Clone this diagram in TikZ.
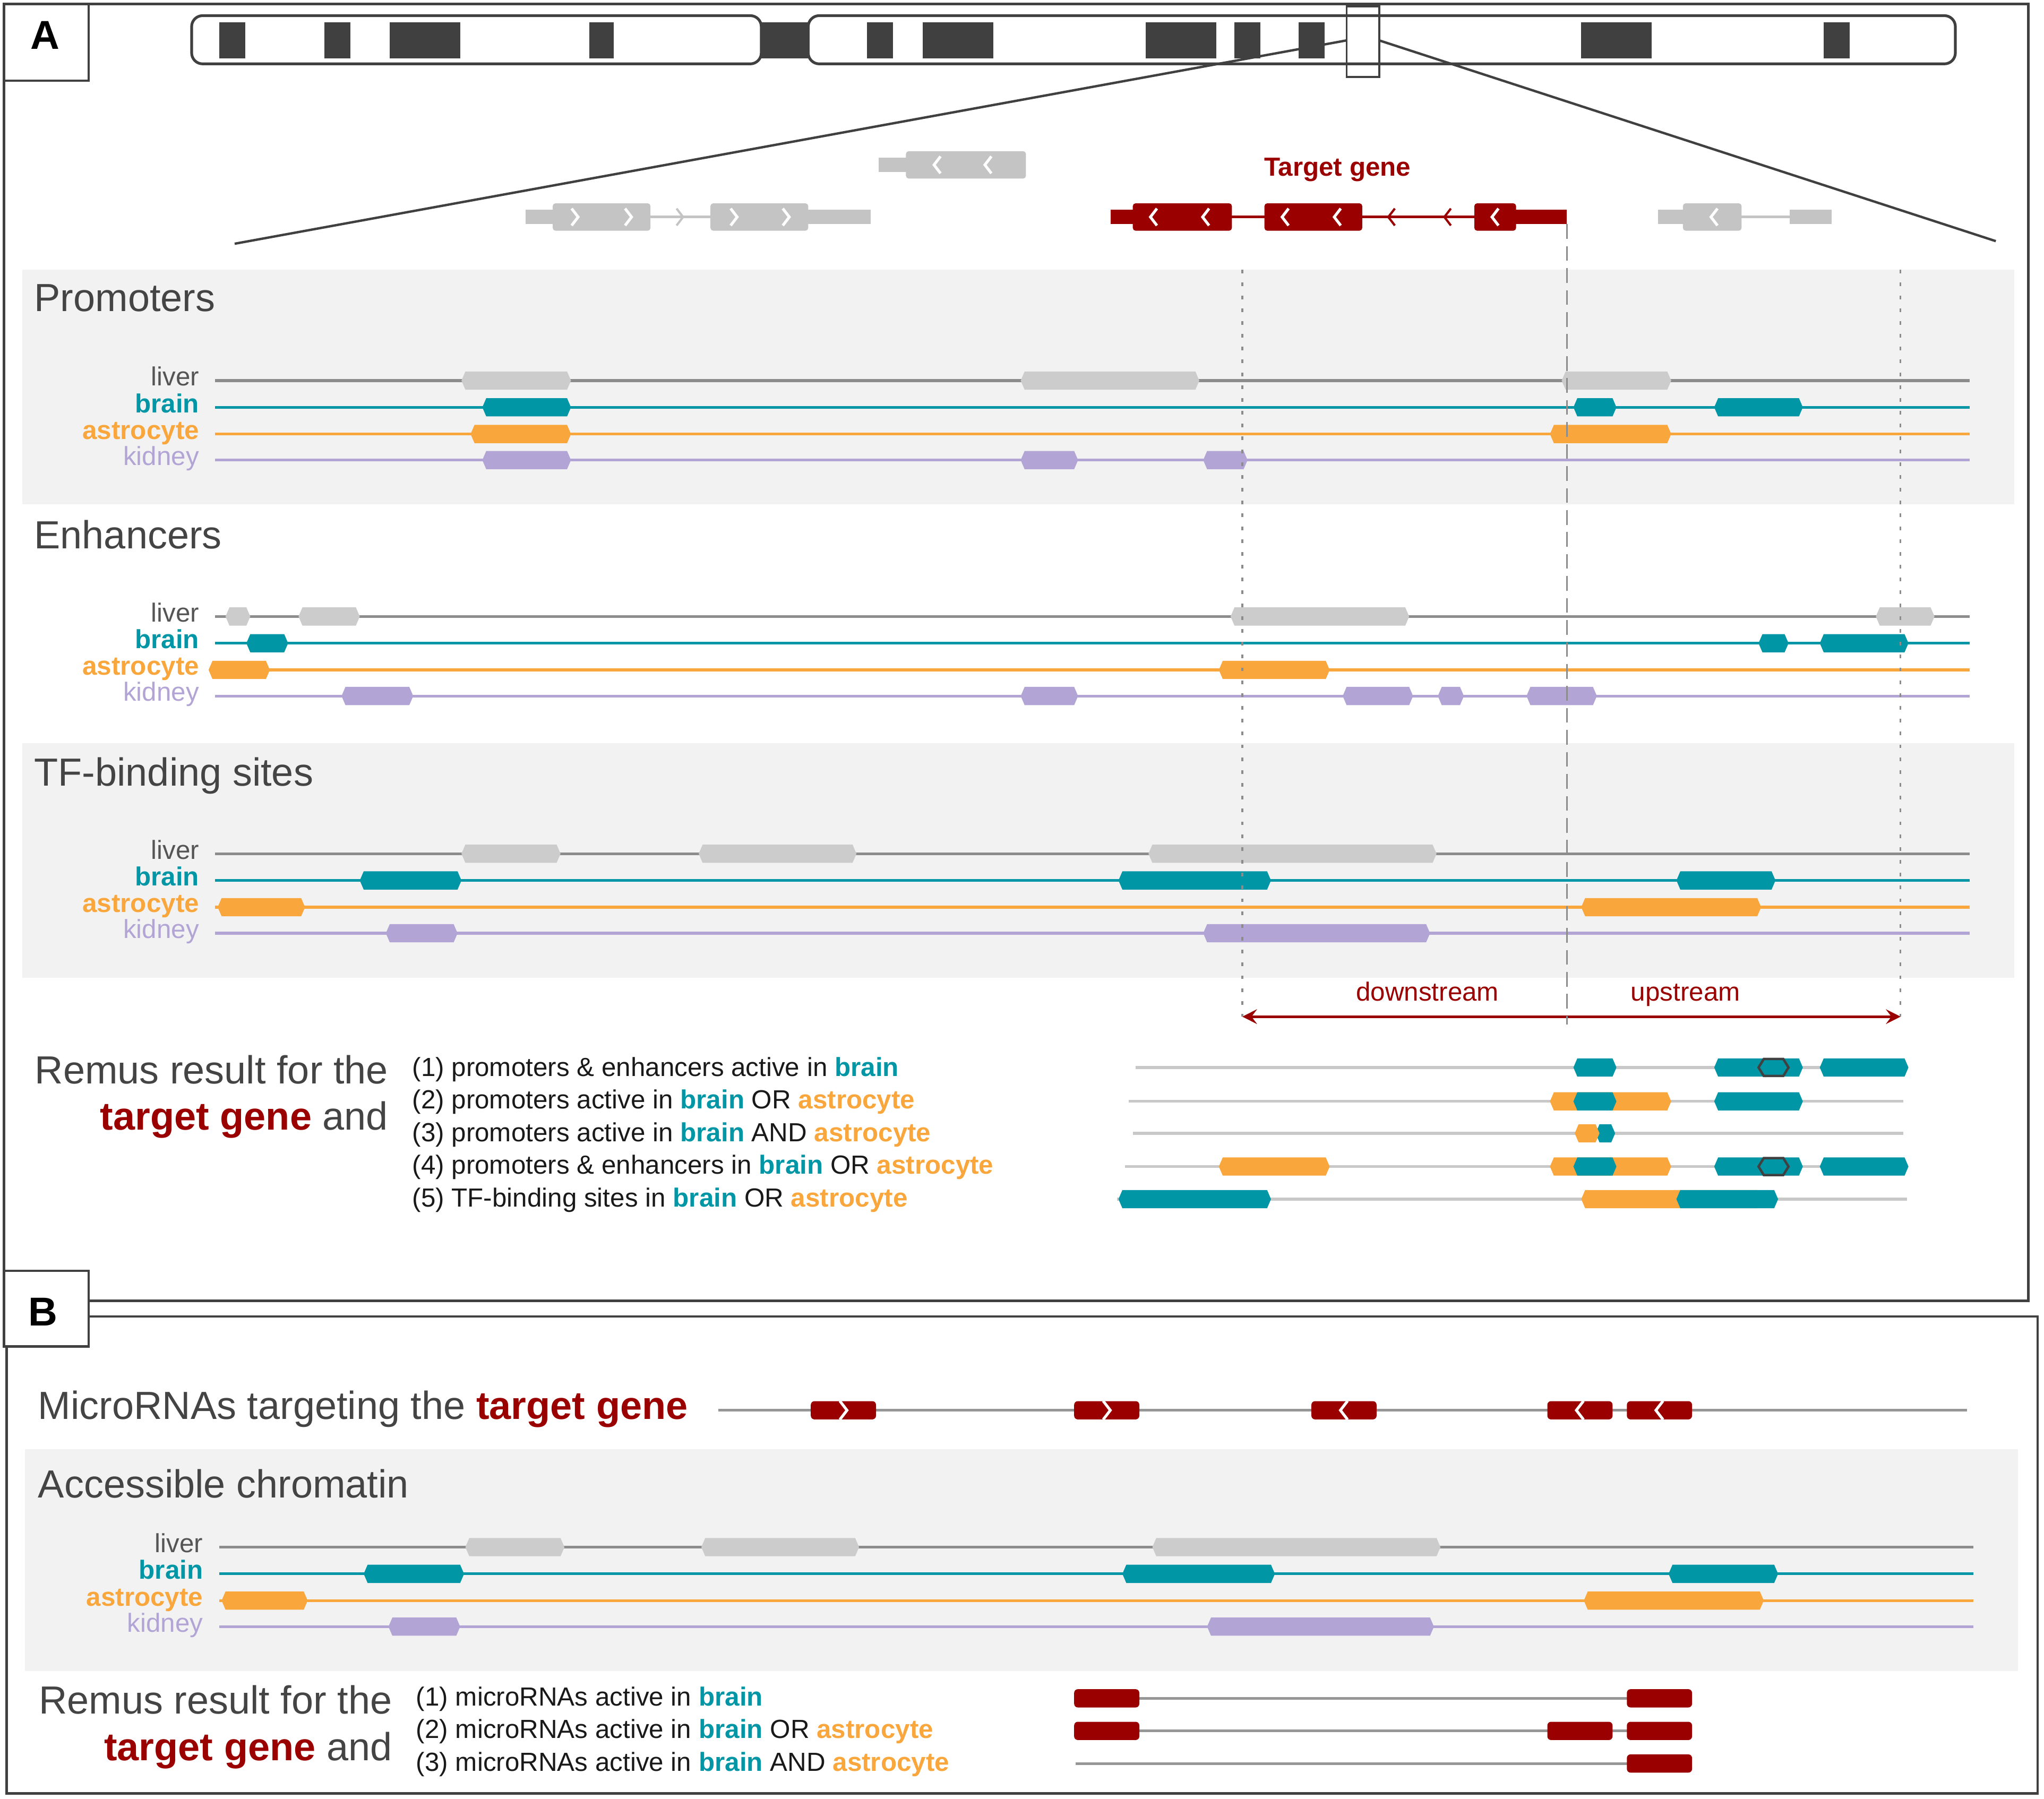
\documentclass[tikz,border=0pt]{standalone}
\usepackage{fontspec}
\setmainfont{Liberation Sans}
\usetikzlibrary{arrows.meta}

\definecolor{brainc}{RGB}{0,150,166}
\definecolor{astroc}{RGB}{249,167,60}
\definecolor{kidneyc}{RGB}{178,165,213}
\definecolor{liverc}{RGB}{204,204,204}
\definecolor{liverln}{RGB}{140,140,140}
\definecolor{liverlab}{RGB}{85,85,85}
\definecolor{genec}{RGB}{196,196,196}
\definecolor{redc}{RGB}{155,0,0}
\definecolor{panelc}{RGB}{242,242,242}
\definecolor{darkc}{RGB}{64,64,64}
\definecolor{resln}{RGB}{200,200,200}
\definecolor{mirln}{RGB}{150,150,150}
\definecolor{txtc}{RGB}{68,68,68}

\newcommand{\bigtxt}{\fontsize{21.4}{25}\selectfont}
\newcommand{\smtxt}{\fontsize{14.3}{17}\selectfont}
\newcommand{\lbltxt}{\fontsize{22}{26}\selectfont\bfseries}
\newcommand{\tbrain}{{\bfseries\color{brainc}brain}}
\newcommand{\tastro}{{\bfseries\color{astroc}astrocyte}}
\newcommand{\tgene}{{\bfseries\color{redc}target gene}}

\tikzstyle{trk} = [line width=1.5pt]
\tikzstyle{lab} = [anchor=base east, inner sep=0pt, font=\smtxt]
\tikzstyle{title} = [anchor=base west, inner sep=0pt, font=\bigtxt, text=txtc]
\tikzstyle{rtitle} = [anchor=base east, inner sep=0pt, font=\bigtxt, text=txtc]
\tikzstyle{item} = [anchor=base west, inner sep=0pt, font=\smtxt, text=black!90]
\tikzstyle{chevw} = [white, line width=1.5pt]
\tikzstyle{frame} = [darkc, line width=1.3pt]
\tikzstyle{dotln} = [liverln, line width=0.9pt, dash pattern=on 2pt off 5pt]
\tikzstyle{dashln} = [liverln, line width=0.9pt, dash pattern=on 8pt off 4pt]

% feature box with pointed ends
\newcommand{\feat}[4]{\fill[#4] (#1,#3) -- (#1+3,#3-7) -- (#2-3,#3-7) -- (#2,#3) -- (#2-3,#3+7) -- (#1+3,#3+7) -- cycle;}
\newcommand{\olbox}[3]{\draw[darkc, line width=1.3pt] (#1,#3) -- (#1+4,#3-6.5) -- (#2-4,#3-6.5) -- (#2,#3) -- (#2-4,#3+6.5) -- (#1+4,#3+6.5) -- cycle;}
% gene parts
\newcommand{\exon}[4]{\fill[#4, rounded corners=1.5pt] (#1,#3-10.5) rectangle (#2,#3+10.5);}
\newcommand{\utr}[4]{\fill[#4] (#1,#3-5.5) rectangle (#2,#3+5.5);}
\newcommand{\intr}[4]{\draw[#4, line width=1.5pt] (#1,#3) -- (#2,#3);}
\newcommand{\chl}[3]{\draw[chevw] (#1+2.5*#3,#2-6.5*#3) -- (#1-2.5*#3,#2) -- (#1+2.5*#3,#2+6.5*#3);}
\newcommand{\chr}[3]{\draw[chevw] (#1-2.5*#3,#2-6.5*#3) -- (#1+2.5*#3,#2) -- (#1-2.5*#3,#2+6.5*#3);}
\newcommand{\mirbox}[2]{\fill[redc, rounded corners=2pt] (#1,#2-7) rectangle (#1+50,#2+7);}
% four tissue rows: #1 liver line y, #2 x shift, #3 name prefix
\newcommand{\tracks}[3]{%
  \node[lab, text=liverlab] (#3liv) at (153+#2,#1+4) {liver};
  \node[lab, text=brainc, font=\smtxt\bfseries] (#3bra) at (153+#2,#1+24.5) {brain};
  \node[lab, text=astroc, font=\smtxt\bfseries] (#3ast) at (153+#2,#1+45) {astrocyte};
  \node[lab, text=kidneyc] (#3kid) at (153+#2,#1+65) {kidney};
  \draw[trk, liverln] (165+#2,#1) -- (1511+#2,#1);
  \draw[trk, brainc] (165+#2,#1+20.5) -- (1511+#2,#1+20.5);
  \draw[trk, astroc] (165+#2,#1+41) -- (1511+#2,#1+41);
  \draw[trk, kidneyc] (165+#2,#1+61) -- (1511+#2,#1+61);
}

\begin{document}
\begin{tikzpicture}[x=0.025cm, y=-0.025cm]
\fill[white] (0,0) rectangle (1568,1380);
\useasboundingbox (0,0) rectangle (1568,1380);

% frames
\draw[frame] (3,975) -- (3,3) -- (1556,3) -- (1556,998) -- (68,998);
\draw[frame] (5,1033) -- (5,1376) -- (1563,1376) -- (1563,1010) -- (68,1010);
\draw[frame, fill=white] (3,3) rectangle (68,62);
\draw[frame, fill=white] (3,975) rectangle (68,1033);
\node[font=\lbltxt] (lblA) at (34.5,27) {A};
\node[font=\lbltxt] (lblB) at (33,1006.5) {B};

% chromosome
\draw[darkc, line width=1.5pt, rounded corners=6pt] (147,12) rectangle (584,49);
\draw[darkc, line width=1.5pt, rounded corners=6pt] (620,12) rectangle (1500,49);
\fill[darkc] (584,17) rectangle (620,45);
\foreach \a/\b in {168/188,249/269,299/353,452/471,665/685,708/762,879/933,947/967,996/1016,1213/1267,1399/1419}
  \fill[darkc] (\a,17) rectangle (\b,45);
\draw[darkc, line width=1.1pt] (1033,5) rectangle (1058,59);
\draw[darkc, line width=1.3pt] (1033,31) -- (180,187);
\draw[darkc, line width=1.3pt] (1058,31) -- (1531,185);

% genes
\utr{674}{696}{126.5}{genec}
\exon{695}{787}{126.5}{genec}
\foreach \x in {719,758} {\chl{\x}{126.5}{1}}
\intr{403}{668}{166.5}{genec}
\utr{403}{424}{166.5}{genec}
\utr{620}{668}{166.5}{genec}
\exon{424}{499}{166.5}{genec}
\exon{545}{620}{166.5}{genec}
\foreach \x in {441,482,563,603} {\chr{\x}{166.5}{1}}
\draw[genec, line width=1.2pt] (519,160) -- (524,166.5) -- (519,173);
\intr{852}{1202}{166.5}{redc}
\utr{852}{870}{166.5}{redc}
\utr{1162}{1202}{166.5}{redc}
\exon{869}{945}{166.5}{redc}
\exon{970}{1045}{166.5}{redc}
\exon{1131}{1163}{166.5}{redc}
\foreach \x in {885,925,986,1026,1147} {\chl{\x}{166.5}{1}}
\foreach \x in {1067,1110} {\draw[redc, line width=1.2pt] (\x+3,160) -- (\x-2,166.5) -- (\x+3,173);}
\node[anchor=base, font=\smtxt\bfseries, text=redc] (tglab) at (1026,135) {Target gene};
\intr{1272}{1405}{166.5}{genec}
\utr{1272}{1292}{166.5}{genec}
\utr{1373}{1405}{166.5}{genec}
\exon{1291}{1336}{166.5}{genec}
\chl{1315}{166.5}{1}

% panels
\fill[panelc] (17,207) rectangle (1545,387);
\fill[panelc] (17,570) rectangle (1545,750);
\fill[panelc] (19,1112) rectangle (1548,1282);

% promoters
\node[title] (prom) at (26,239) {Promoters};
\tracks{292}{0}{p}
\foreach \a/\b in {354/438,783/920,1198/1282} {\feat{\a}{\b}{292}{liverc}}
\foreach \a/\b in {370/438,1207/1240,1315/1383} {\feat{\a}{\b}{312.5}{brainc}}
\foreach \a/\b in {361/438,1189/1282} {\feat{\a}{\b}{333}{astroc}}
\foreach \a/\b in {370/438,783/827,923/957} {\feat{\a}{\b}{353}{kidneyc}}

% enhancers
\node[title] (enh) at (26,421) {Enhancers};
\tracks{473}{0}{e}
\foreach \a/\b in {173/192,229/276,944/1081,1439/1484} {\feat{\a}{\b}{473}{liverc}}
\foreach \a/\b in {189/221,1349/1372,1396/1464} {\feat{\a}{\b}{493.5}{brainc}}
\foreach \a/\b in {160/207,935/1020} {\feat{\a}{\b}{514}{astroc}}
\foreach \a/\b in {262/317,783/827,1030/1084,1103/1123,1171/1225} {\feat{\a}{\b}{534}{kidneyc}}

% TF-binding sites
\node[title] (tfbs) at (26,603) {TF-binding sites};
\tracks{655}{0}{t}
\foreach \a/\b in {354/430,536/657,881/1102} {\feat{\a}{\b}{655}{liverc}}
\foreach \a/\b in {276/354,858/975,1286/1362} {\feat{\a}{\b}{675.5}{brainc}}
\foreach \a/\b in {167/234,1213/1351} {\feat{\a}{\b}{696}{astroc}}
\foreach \a/\b in {296/351,923/1097} {\feat{\a}{\b}{716}{kidneyc}}

% window around the target gene
\coordinate (dnend) at (953,780);
\coordinate (upend) at (1458,780);
\draw[{Stealth[length=8pt,width=8pt,inset=3pt]}-{Stealth[length=8pt,width=8pt,inset=3pt]}, redc, line width=1.4pt] (dnend) -- (upend);
\draw[dotln] (953,207) -- (dnend);
\draw[dotln] (1458,207) -- (upend);
\draw[dashln] (1202,172) -- (1202,786);
\node[anchor=base, font=\smtxt, text=redc] (dnlab) at (1095,768) {downstream};
\node[anchor=base, font=\smtxt, text=redc] (uplab) at (1293,768) {upstream};

% Remus result, promoters / enhancers / TFBS
\node[rtitle] (resA1) at (298,831.5) {Remus result for the};
\node[rtitle] (resA2) at (298,866.7) {\tgene{} and};
\node[item] (ia1) at (316,825.6) {(1) promoters \& enhancers active in \tbrain};
\node[item] (ia2) at (316,850.7) {(2) promoters active in \tbrain{} OR \tastro};
\node[item] (ia3) at (316,875.7) {(3) promoters active in \tbrain{} AND \tastro};
\node[item] (ia4) at (316,900.8) {(4) promoters \& enhancers in \tbrain{} OR \tastro};
\node[item] (ia5) at (316,925.8) {(5) TF-binding sites in \tbrain{} OR \tastro};
\draw[resln, trk] (871,819) -- (1462,819);
\draw[resln, trk] (866,845) -- (1460,845);
\draw[resln, trk] (869,869.5) -- (1460,869.5);
\draw[resln, trk] (863,895) -- (1462,895);
\draw[resln, trk] (857,920) -- (1463,920);
\foreach \a/\b in {1207/1240,1315/1383,1396/1464} {\feat{\a}{\b}{819}{brainc}}
\olbox{1349}{1372}{819}
\feat{1189}{1282}{845}{astroc}
\foreach \a/\b in {1207/1240,1315/1383} {\feat{\a}{\b}{845}{brainc}}
\feat{1224}{1239}{869.5}{brainc}
\feat{1208}{1227}{869.5}{astroc}
\foreach \a/\b in {935/1020,1189/1282} {\feat{\a}{\b}{895}{astroc}}
\foreach \a/\b in {1207/1240,1315/1383,1396/1464} {\feat{\a}{\b}{895}{brainc}}
\olbox{1349}{1372}{895}
\feat{858}{975}{920}{brainc}
\feat{1213}{1351}{920}{astroc}
\feat{1286}{1364}{920}{brainc}

% panel B: microRNAs
\node[title] (mirt) at (29,1089) {MicroRNAs targeting the \tgene};
\draw[mirln, trk] (551,1082) -- (1509,1082);
\foreach \x in {622,824,1006,1187,1248} {\mirbox{\x}{1082}}
\foreach \x in {647,849} {\chr{\x}{1082}{1.1}}
\foreach \x in {1031,1212,1273} {\chl{\x}{1082}{1.1}}

% accessible chromatin
\node[title] (acc) at (29,1149) {Accessible chromatin};
\tracks{1187}{3}{c}
\foreach \a/\b in {357/433,538/659,884/1105} {\feat{\a}{\b}{1187}{liverc}}
\foreach \a/\b in {279/356,861/978,1280/1364} {\feat{\a}{\b}{1207.5}{brainc}}
\foreach \a/\b in {170/236,1215/1353} {\feat{\a}{\b}{1228}{astroc}}
\foreach \a/\b in {298/353,926/1100} {\feat{\a}{\b}{1248}{kidneyc}}

% Remus result, microRNAs
\node[rtitle] (resB1) at (301,1314.7) {Remus result for the};
\node[rtitle] (resB2) at (301,1350.8) {\tgene{} and};
\node[item] (ib1) at (319,1308.7) {(1) microRNAs active in \tbrain};
\node[item] (ib2) at (319,1333.8) {(2) microRNAs active in \tbrain{} OR \tastro};
\node[item] (ib3) at (319,1358.8) {(3) microRNAs active in \tbrain{} AND \tastro};
\foreach \y in {1303,1328,1353} {\draw[mirln, trk] (825,\y) -- (1298,\y);}
\foreach \x/\y in {824/1303,1248/1303,824/1328,1187/1328,1248/1328,1248/1353} {\mirbox{\x}{\y}}
\end{tikzpicture}
\end{document}
